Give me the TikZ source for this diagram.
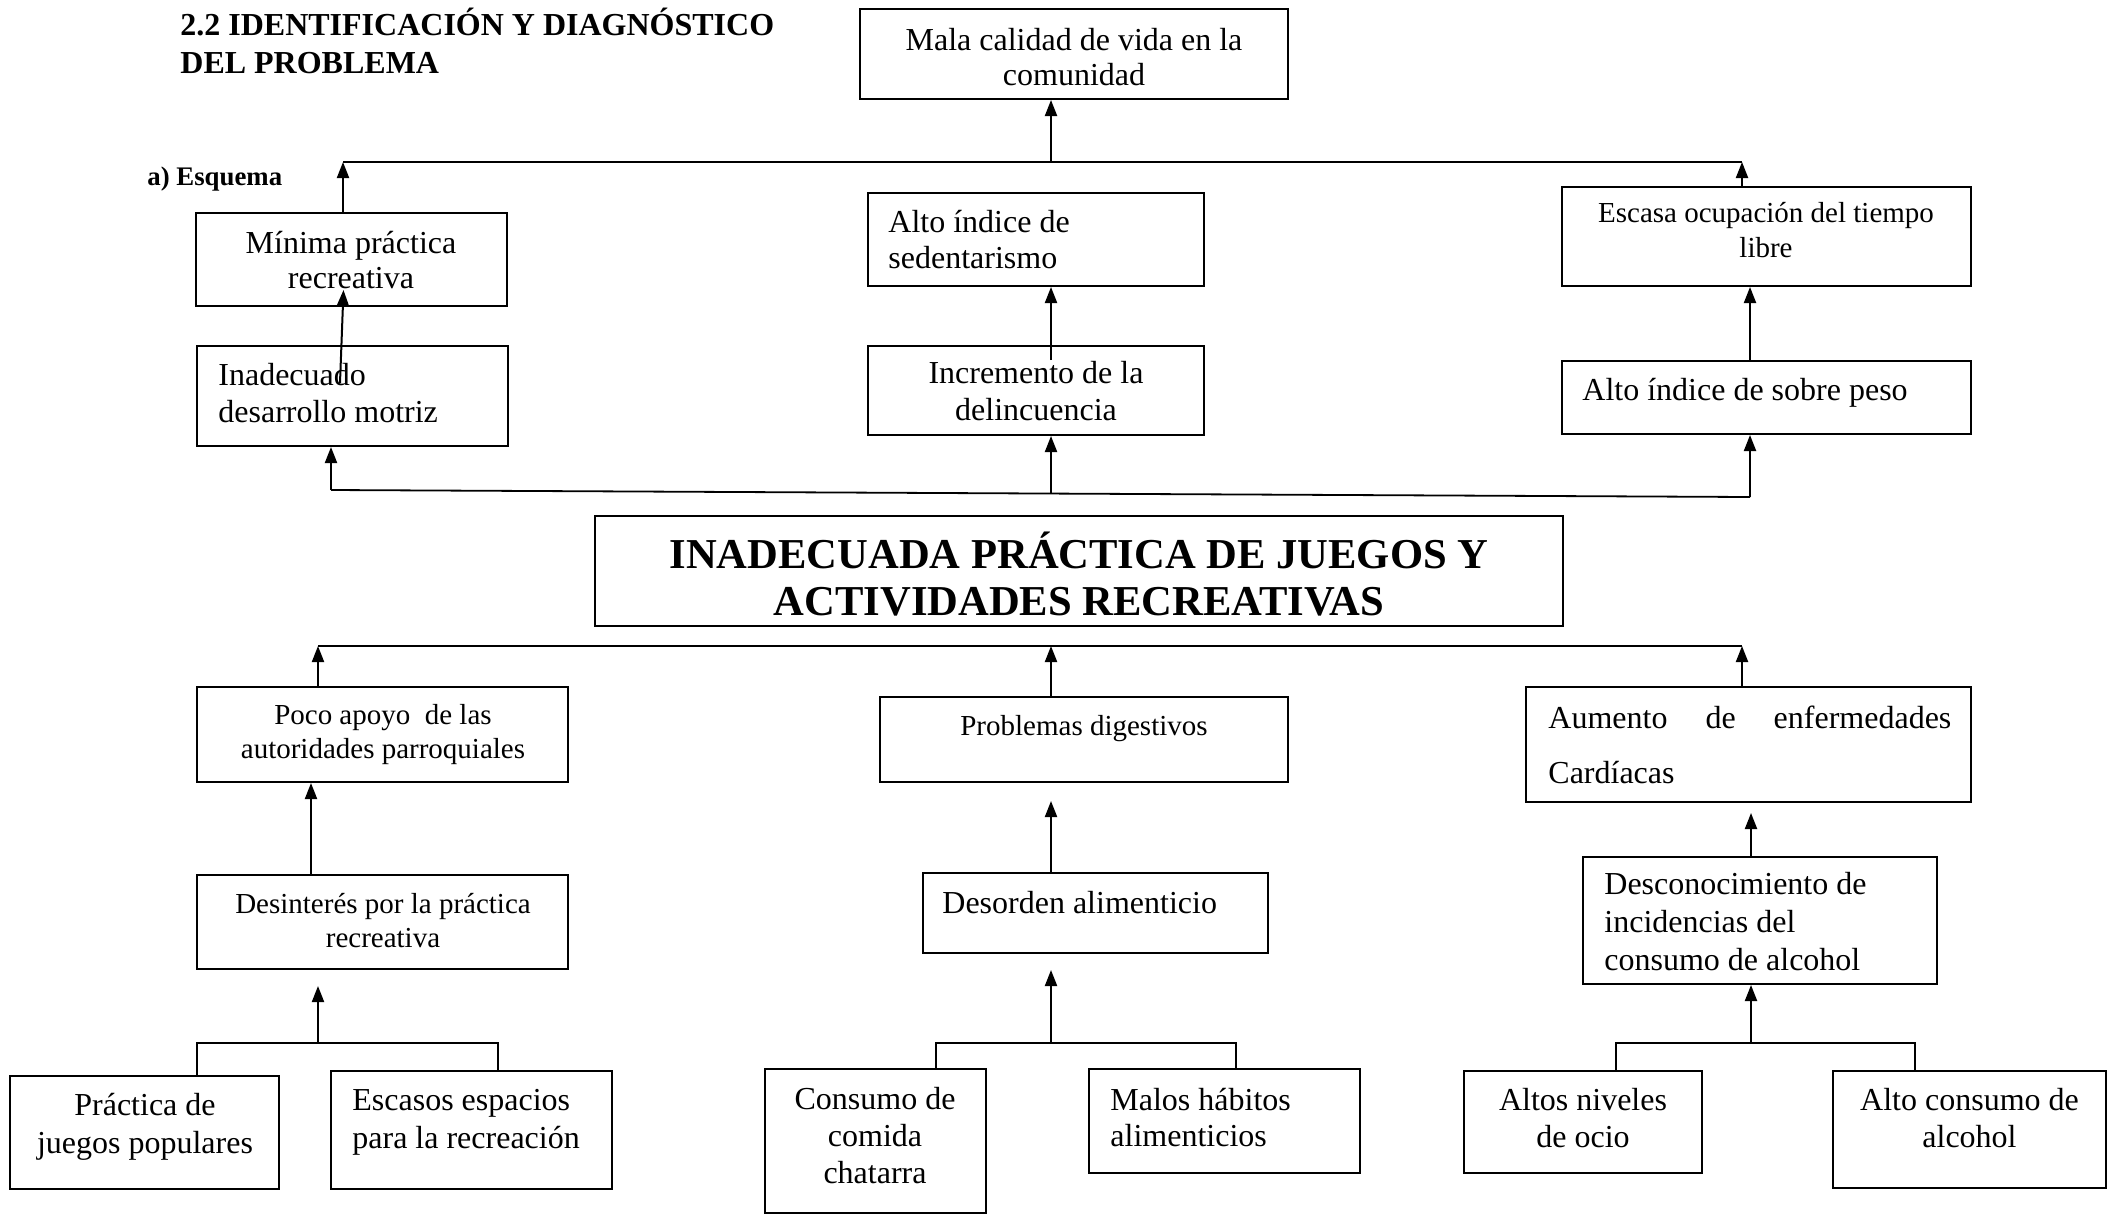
\documentclass[tikz,border=0pt]{standalone}
\usepackage{fontspec}
\setmainfont{Liberation Serif}
\usetikzlibrary{fit,arrows.meta}
\tikzset{
  box/.style={draw, line width=1pt, inner sep=0pt},
  arr/.style={line width=1pt, -{Triangle[length=8pt,width=6pt]}},
  ln/.style={line width=0.9pt},
  txt/.style={inner sep=0pt, font=\fontsize{16}{17.5}\selectfont},
  small/.style={inner sep=0pt, font=\fontsize{14.5}{17}\selectfont},
}
\begin{document}
\begin{tikzpicture}[x=0.5pt,y=-0.5pt]
\fill[white] (0,0) rectangle (2120,1216);
\path[use as bounding box] (0,0) rectangle (2120,1216);

% header (anchor base = last line)
\node[inner sep=0pt, anchor=base west, align=left, font=\bfseries\fontsize{16}{19}\selectfont] (hdr) at (180,73) {2.2 IDENTIFICACIÓN Y DIAGNÓSTICO\\DEL PROBLEMA};
\node[inner sep=0pt, anchor=base west, font=\bfseries\fontsize{13.4}{15}\selectfont] (esq) at (147,185) {a) Esquema};

% boxes
\node[box, fit={(860,9) (1288,99)}] (mala) {};
\node[box, fit={(196,213) (507,306)}] (mini) {};
\node[box, fit={(868,193) (1204,286)}] (sed) {};
\node[box, fit={(1562,187) (1971,286)}] (esc) {};
\node[box, fit={(197,346) (508,446)}] (inad) {};
\node[box, fit={(868,346) (1204,435)}] (inc) {};
\node[box, fit={(1562,361) (1971,434)}] (peso) {};
\node[box, fit={(595,516) (1563,626)}] (main) {};
\node[box, fit={(197,687) (568,782)}] (poco) {};
\node[box, fit={(880,697) (1288,782)}] (prob) {};
\node[box, fit={(1526,687) (1971,802)}] (aum) {};
\node[box, fit={(197,875) (568,969)}] (desi) {};
\node[box, fit={(923,873) (1268,953)}] (deso) {};
\node[box, fit={(1583,857) (1937,984)}] (desc) {};
\node[box, fit={(10,1076) (279,1189)}] (prac) {};
\node[box, fit={(331,1071) (612,1189)}] (esp) {};
\node[box, fit={(765,1069) (986,1213)}] (chat) {};
\node[box, fit={(1089,1069) (1360,1173)}] (malos) {};
\node[box, fit={(1464,1071) (1702,1173)}] (ocio) {};
\node[box, fit={(1833,1071) (2106,1188)}] (alc) {};

% texts (multi-line: anchor base is the last line's baseline)
\node[txt, anchor=base, align=center] (tmala) at (1074,85) {Mala calidad de vida en la\\comunidad};
\node[txt, anchor=base, align=center] (tmini) at (351,288) {Mínima práctica\\recreativa};
\node[txt, anchor=base west, align=left, font=\fontsize{16}{18}\selectfont] (tsed) at (888,268) {Alto índice de\\sedentarismo};
\node[small, anchor=base, align=center, font=\fontsize{14.5}{17.5}\selectfont] (tesc) at (1766,257) {Escasa ocupación del tiempo\\libre};
\node[txt, anchor=base west, align=left, font=\fontsize{16}{18.5}\selectfont] (tinad) at (218,422) {Inadecuado\\desarrollo motriz};
\node[txt, anchor=base, align=center, font=\fontsize{16}{18.5}\selectfont] (tinc) at (1036,420) {Incremento de la\\delincuencia};
\node[txt, anchor=base west] (tpeso) at (1582,400) {Alto índice de sobre peso};
\node[inner sep=0pt, anchor=base, align=center, font=\bfseries\fontsize{21.3}{23.5}\selectfont] (tmain) at (1079,615) {INADECUADA PRÁCTICA DE JUEGOS Y\\ACTIVIDADES RECREATIVAS};
\node[small, anchor=base, align=center] (tpoco) at (383,758) {Poco apoyo\ \ de las\\autoridades parroquiales};
\node[small, anchor=base] (tprob) at (1084,735) {Problemas digestivos};
\node[txt, anchor=base west, text width=201.5pt, align=left, font=\fontsize{16}{27.5}\selectfont] (taum) at (1548,728) {Aumento\hfill de\hfill enfermedades\\Cardíacas};
\node[small, anchor=base, align=center] (tdesi) at (383,947) {Desinterés por la práctica\\recreativa};
\node[txt, anchor=base west] (tdeso) at (942,913) {Desorden alimenticio};
\node[txt, anchor=base west, align=left, font=\fontsize{16}{19}\selectfont] (tdesc) at (1604,970) {Desconocimiento de\\incidencias del\\consumo de alcohol};
\node[txt, anchor=base, align=center, font=\fontsize{16}{19}\selectfont] (tprac) at (145,1153) {Práctica de\\juegos populares};
\node[txt, anchor=base west, align=left, font=\fontsize{16}{19}\selectfont] (tesp) at (352,1148) {Escasos espacios\\para la recreación};
\node[txt, anchor=base, align=center, font=\fontsize{16}{18.5}\selectfont] (tchat) at (875,1183) {Consumo de\\comida\\chatarra};
\node[txt, anchor=base west, align=left, font=\fontsize{16}{18}\selectfont] (tmalos) at (1110,1146) {Malos hábitos\\alimenticios};
\node[txt, anchor=base, align=center, font=\fontsize{16}{18.5}\selectfont] (tocio) at (1583,1147) {Altos niveles\\de ocio};
\node[txt, anchor=base, align=center, font=\fontsize{16}{18.5}\selectfont] (talc) at (1969.5,1147) {Alto consumo de\\alcohol};

% top connectors
\coordinate (tl) at (343,162);
\coordinate (tr) at (1742,162);
\coordinate (tc) at (1051,162);
\draw[ln] (tl) -- (tr);
\draw[arr] (mini.north -| tl) -- (tl);
\draw[arr] (esc.north -| tr) -- (tr);
\draw[arr] (tc) -- (mala.south -| tc);

\coordinate (incs) at (1051,360);
\draw[arr] (incs) -- (sed.south -| incs);
\coordinate (ia) at (340,383);
\coordinate (ib) at (343.5,290);
\draw[arr] (ia) -- (ib);

% effects bracket
\coordinate (el) at (331,490);
\coordinate (em) at (1051,493.5);
\coordinate (er) at (1750,497);
\draw[ln] (el) -- (er);
\draw[arr] (el) -- (inad.south -| el);
\draw[arr] (em) -- (inc.south -| em);
\draw[arr] (er) -- (peso.south -| er);
\draw[arr] (peso.north -| er) -- (esc.south -| er);

% causes bracket
\coordinate (bl) at (318,646);
\coordinate (bm) at (1051,646);
\coordinate (br) at (1742,646);
\draw[ln] (bl) -- (br);
\draw[arr] (poco.north -| bl) -- (bl);
\draw[arr] (prob.north -| bm) -- (bm);
\draw[arr] (aum.north -| br) -- (br);

% left column
\coordinate (lA) at (311,875);
\draw[arr] (lA) -- (poco.south -| lA);
\coordinate (lb1) at (197,1043);
\coordinate (lb2) at (498,1043);
\coordinate (lbm) at (318,1043);
\coordinate (lbt) at (318,986);
\draw[ln] (prac.north -| lb1) -- (lb1) -- (lb2) -- (esp.north -| lb2);
\draw[arr] (lbm) -- (lbt);

% middle column
\coordinate (mA) at (1051,801);
\draw[arr] (deso.north -| mA) -- (mA);
\coordinate (mb1) at (936,1043);
\coordinate (mb2) at (1236,1043);
\coordinate (mbm) at (1051,1043);
\coordinate (mbt) at (1051,970);
\draw[ln] (chat.north -| mb1) -- (mb1) -- (mb2) -- (malos.north -| mb2);
\draw[arr] (mbm) -- (mbt);

% right column
\coordinate (rA) at (1751,813);
\draw[arr] (desc.north -| rA) -- (rA);
\coordinate (rb1) at (1616,1043);
\coordinate (rb2) at (1915,1043);
\coordinate (rbm) at (1751,1043);
\draw[ln] (ocio.north -| rb1) -- (rb1) -- (rb2) -- (alc.north -| rb2);
\draw[arr] (rbm) -- (desc.south -| rbm);
\end{tikzpicture}
\end{document}
